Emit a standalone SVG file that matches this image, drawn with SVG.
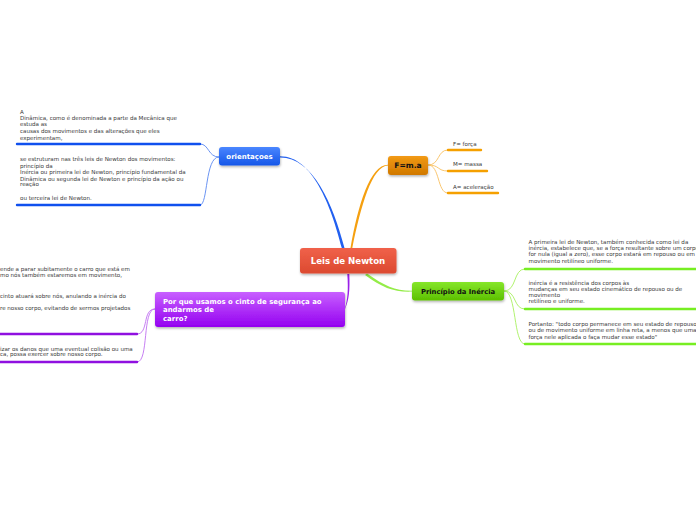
<svg xmlns="http://www.w3.org/2000/svg" width="696" height="520" viewBox="0 0 696 520">
<style>
.t{font-family:"DejaVu Sans",Verdana,sans-serif;font-size:5.55px;fill:#383838}
.nt{font-family:"DejaVu Sans",Verdana,sans-serif;font-weight:bold}
.ul{fill:none;stroke-width:2.4;stroke-linecap:round}
.thin{fill:none;stroke-width:0.9}
</style>
<defs>
<linearGradient id="gRed" x1="0" y1="0" x2="0" y2="1"><stop offset="0" stop-color="#f0614a"/><stop offset="1" stop-color="#dc4a30"/></linearGradient>
<linearGradient id="gBlue" x1="0" y1="0" x2="0" y2="1"><stop offset="0" stop-color="#4a86ff"/><stop offset="1" stop-color="#1456e8"/></linearGradient>
<linearGradient id="gOr" x1="0" y1="0" x2="0" y2="1"><stop offset="0" stop-color="#f29a14"/><stop offset="1" stop-color="#d07800"/></linearGradient>
<linearGradient id="gGr" x1="0" y1="0" x2="0" y2="1"><stop offset="0" stop-color="#86e62a"/><stop offset="1" stop-color="#5cc000"/></linearGradient>
<linearGradient id="gPu" x1="0" y1="0" x2="0" y2="1"><stop offset="0" stop-color="#c860ff"/><stop offset="1" stop-color="#9400f0"/></linearGradient>
<filter id="sh" x="-10%" y="-20%" width="120%" height="160%"><feDropShadow dx="0.5" dy="1.5" stdDeviation="1" flood-color="#000" flood-opacity="0.3"/></filter>
</defs>
<rect width="696" height="520" fill="#fff"/>
<g id="connectors">
<path d="M280,156.3 C312,156 331,205 341.8,248 L344.5,248 C333,204 313,157.5 280,157.6 Z" fill="#2260f0"/>
<path d="M350.5,248 C358,205 370,165 388,164.8 L388,165.6 C372,166 361,206 352.3,248 Z" fill="#f5a010"/>
<path d="M367,273.5 C385,286 395,291 412,290.8 L412,291.6 C394,292.3 383,288 365,275 Z" fill="#94ec48"/>
<path d="M347.3,274 C348.5,290 347.5,300 345,308 L345,309 C349,300 350,290 349.3,274 Z" fill="#9a20e8"/>
<path class="thin" stroke="#5a88f0" d="M219,157 C208,157 209,144 200,144"/>
<path class="thin" stroke="#5a88f0" d="M219,157 C205,157 208,205 200,205"/>
<path class="thin" stroke="#f8c060" d="M428,165 C440,165 437,150 448,150"/>
<path class="thin" stroke="#f8c060" d="M428,165 C440,165 437,171 448,171"/>
<path class="thin" stroke="#f8c060" d="M428,165 C440,165 437,193 448,193"/>
<path class="thin" stroke="#a8f060" d="M504,291 C517,291 513,269 525,269"/>
<path class="thin" stroke="#a8f060" d="M504,291 C517,291 513,309 525,309"/>
<path class="thin" stroke="#a8f060" d="M504,291 C517,291 513,344 525,344"/>
<path class="thin" stroke="#c070f0" d="M155,309 C142,309 149,334 137,334"/>
<path class="thin" stroke="#c070f0" d="M155,309 C142,309 149,362 137,362"/>
</g>
<g id="node-center">
<rect x="300" y="248" width="96.5" height="25.5" rx="3" fill="url(#gRed)" filter="url(#sh)"/>
<text class="nt" x="348" y="264" font-size="8.6" fill="#fff" text-anchor="middle">Leis de Newton</text>
</g>
<g id="node-orientacoes">
<rect x="219" y="147" width="61" height="18.5" rx="3" fill="url(#gBlue)" filter="url(#sh)"/>
<text class="nt" x="249.5" y="159" font-size="7" fill="#fff" text-anchor="middle">orientaçoes</text>
</g>
<g id="node-fma">
<rect x="388" y="156" width="40" height="19" rx="3" fill="url(#gOr)" filter="url(#sh)"/>
<text class="nt" x="408" y="168" font-size="7.6" fill="#111" text-anchor="middle">F=m.a</text>
</g>
<g id="node-principio">
<rect x="412" y="282" width="92" height="18.5" rx="3" fill="url(#gGr)" filter="url(#sh)"/>
<text class="nt" x="458" y="293.5" font-size="6.8" fill="#111" text-anchor="middle">Princípio da Inércia</text>
</g>
<g id="node-porque">
<rect x="155" y="292" width="190" height="35" rx="3" fill="url(#gPu)" filter="url(#sh)"/>
<text class="nt" font-size="6.95" fill="#fff"><tspan x="163" y="304.3">Por que usamos o cinto de segurança ao</tspan><tspan x="163" y="312.3">andarmos de</tspan><tspan x="163" y="321">carro?</tspan></text>
</g>
<g id="node-orient-1">
<text class="t"><tspan x="20" y="113.7">A</tspan><tspan x="20" y="120.3">Dinâmica, como é denominada a parte da Mecânica que</tspan><tspan x="20" y="126.3">estuda as</tspan><tspan x="20" y="133">causas dos movimentos e das alterações que eles</tspan><tspan x="20" y="139.7">experimentam,</tspan></text>
<path class="ul" stroke="#1050ee" d="M17,144 H200"/>
</g>
<g id="node-orient-2">
<text class="t"><tspan x="20" y="161.3">se estruturam nas três leis de Newton dos movimentos:</tspan><tspan x="20" y="167.7">princípio da</tspan><tspan x="20" y="173.7">Inércia ou primeira lei de Newton, princípio fundamental da</tspan><tspan x="20" y="181">Dinâmica ou segunda lei de Newton e princípio da ação ou</tspan><tspan x="20" y="186.3">reação</tspan><tspan x="20" y="200.3">ou terceira lei de Newton.</tspan></text>
<path class="ul" stroke="#1050ee" d="M17,205 H200"/>
</g>
<g id="node-fma-1">
<text class="t" x="453" y="146">F= força</text>
<path class="ul" stroke="#f5a000" d="M448,150 H481"/>
</g>
<g id="node-fma-2">
<text class="t" x="453" y="166">M= massa</text>
<path class="ul" stroke="#f5a000" d="M448,171 H487"/>
</g>
<g id="node-fma-3">
<text class="t" x="453" y="189">A= aceleração</text>
<path class="ul" stroke="#f5a000" d="M448,193 H498"/>
</g>
<g id="node-princ-1">
<text class="t"><tspan x="528.5" y="244">A primeira lei de Newton, também conhecida como lei da</tspan><tspan x="528.5" y="250">inércia, estabelece que, se a força resultante sobre um corpo</tspan><tspan x="528.5" y="256">for nula (igual a zero), esse corpo estará em repouso ou em</tspan><tspan x="528.5" y="262.5">movimento retilíneo uniforme.</tspan></text>
<path class="ul" stroke="#77ee22" d="M525,269 H698"/>
</g>
<g id="node-princ-2">
<text class="t"><tspan x="528.5" y="285">inércia é a resistência dos corpos às</tspan><tspan x="528.5" y="291">mudanças em seu estado cinemático de repouso ou de</tspan><tspan x="528.5" y="296.5">movimento</tspan><tspan x="528.5" y="303">retilíneo e uniforme.</tspan></text>
<path class="ul" stroke="#77ee22" d="M525,309 H698"/>
</g>
<g id="node-princ-3">
<text class="t"><tspan x="528.5" y="326">Portanto: "todo corpo permanece em seu estado de repouso</tspan><tspan x="528.5" y="332.3">ou de movimento uniforme em linha reta, a menos que uma</tspan><tspan x="528.5" y="338.5">força nele aplicada o faça mudar esse estado"</tspan></text>
<path class="ul" stroke="#77ee22" d="M525,344 H698"/>
</g>
<g id="node-porque-1">
<text class="t"><tspan x="0" y="271.3">ende a parar subitamente o carro que está em</tspan><tspan x="0" y="277">mo nós também estaremos em movimento,</tspan><tspan x="0" y="297.7">cinto atuará sobre nós, anulando a inércia do</tspan><tspan x="0" y="309.7">re nosso corpo, evitando de sermos projetados</tspan></text>
<path class="ul" stroke="#9010e0" d="M-2,334 H137"/>
</g>
<g id="node-porque-2">
<text class="t"><tspan x="0" y="351">izar os danos que uma eventual colisão ou uma</tspan><tspan x="0" y="356.3">ca, possa exercer sobre nosso corpo.</tspan></text>
<path class="ul" stroke="#9010e0" d="M-2,362 H137"/>
</g>
</svg>
